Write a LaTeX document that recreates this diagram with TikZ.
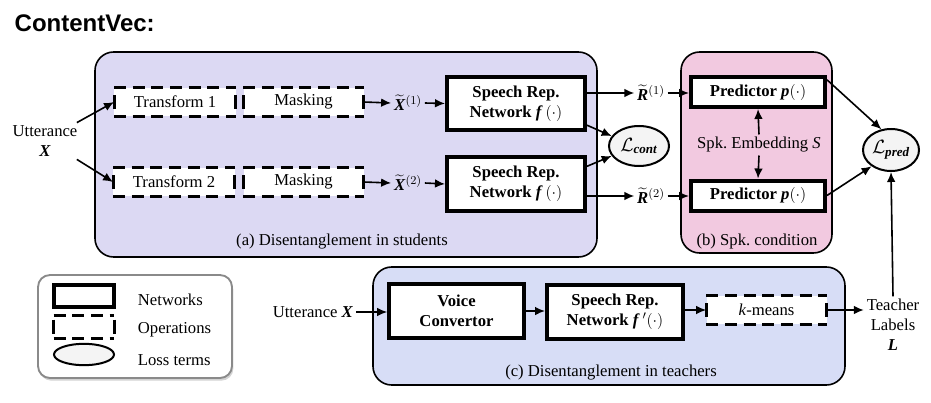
\documentclass[tikz,border=0pt]{standalone}
\usepackage{fontspec}
\usepackage{amsmath}
\setmainfont{Liberation Serif}
\newfontfamily\titlefont{Liberation Sans}
\usetikzlibrary{positioning,arrows.meta,shapes.geometric,shadows}
\definecolor{studentbg}{HTML}{DCD9F3}
\definecolor{condbg}{HTML}{F2C9E0}
\definecolor{teacherbg}{HTML}{D7DDF6}
\definecolor{lossfill}{HTML}{F4F4F4}
\definecolor{legendline}{HTML}{8A8A8A}
\newcommand{\figsize}{\fontsize{12.5}{15}\selectfont}
\tikzstyle{panel} = [draw, line width=1.2pt, rounded corners=14pt]
\tikzstyle{legendbox} = [draw=legendline, line width=1.4pt, rounded corners=9pt, fill=white,
  drop shadow={opacity=0.35, shadow xshift=1pt, shadow yshift=-2pt}]
\tikzstyle{net} = [rectangle, draw, line width=3pt, fill=white, font=\figsize\bfseries, align=center, inner sep=0pt]
\tikzstyle{op} = [rectangle, fill=white, inner sep=0pt, minimum height=21pt]
\tikzstyle{opedge} = [line width=2.3pt, dash pattern=on 9pt off 5pt]
\tikzstyle{opbar} = [line width=2.3pt]
\tikzstyle{loss} = [ellipse, draw, line width=1.5pt, fill=lossfill, inner sep=0pt, font=\fontsize{14}{16}\selectfont]
\tikzstyle{lbl} = [inner sep=2pt, align=center]
\tikzstyle{line} = [draw, line width=1.2pt, -{Latex[length=7.5pt,width=6.5pt]}]

\begin{document}
\begin{tikzpicture}[x=0.75pt, y=-0.75pt, font=\figsize]
  \useasboundingbox (0,0) rectangle (931,403);
  \node [anchor=west, font=\titlefont\bfseries\fontsize{18}{20}\selectfont] (title) at (10,23) {ContentVec:};

  % Panels
  \draw [panel, fill=studentbg] (95,52) rectangle (597,257);
  \draw [panel, fill=condbg] (681,52) rectangle (832,253);
  \draw [panel, fill=teacherbg] (373,267) rectangle (845,385);
  \draw [legendbox] (38,275) rectangle (232,378);

  % (a) students
  \node [lbl] (utt) at (45,141) {Utterance\\\textbf{\textit{X}}};
  \node [op, minimum width=91pt] (tf1) at (175,102) {Transform 1};
  \node [op, minimum width=90pt] (mk1) at (303.5,102) {Masking};
  \node [op, minimum width=91pt] (tf2) at (174,182) {Transform 2};
  \node [op, minimum width=90pt] (mk2) at (303.5,182) {Masking};
  \node [lbl] (x1) at (408,103) {$\widetilde{\textbf{\textit{X}}}{}^{(1)}$};
  \node [lbl] (x2) at (408,183) {$\widetilde{\textbf{\textit{X}}}{}^{(2)}$};
  \node [net, minimum width=103.5pt, minimum height=40pt] (sr1) at (516,103.5) {Speech Rep.\\Network \textit{f}\,$(\cdot)$};
  \node [net, minimum width=103.5pt, minimum height=40pt] (sr2) at (516,184) {Speech Rep.\\Network \textit{f}\,$(\cdot)$};
  \node [lbl] (pa) at (342,242) {(a) Disentanglement in students};

  \node [lbl] (r1) at (651,93) {$\widetilde{\textbf{\textit{R}}}{}^{(1)}$};
  \node [lbl] (r2) at (651,196) {$\widetilde{\textbf{\textit{R}}}{}^{(2)}$};
  \node [loss, minimum width=45pt, minimum height=30pt] (cont) at (639,146) {$\mathcal{L}_{\textbf{\textit{cont}}}$};

  % (b) speaker condition
  \node [net, minimum width=100.5pt, minimum height=22.5pt] (pred1) at (758,92) {Predictor \textit{p}$(\cdot)$};
  \node [net, minimum width=100.5pt, minimum height=22.5pt] (pred2) at (758,195.5) {Predictor \textit{p}$(\cdot)$};
  \node [lbl] (emb) at (759,145) {Spk.\ Embedding \textit{S}};
  \node [lbl] (pb) at (757,241) {(b) Spk.\ condition};
  \node [loss, minimum width=42pt, minimum height=31.5pt] (lpred) at (891,150) {$\mathcal{L}_{\textbf{\textit{pred}}}$};

  % (c) teachers
  \node [lbl] (utt2) at (313,312) {Utterance \textbf{\textit{X}}};
  \node [net, minimum width=101pt, minimum height=40.5pt] (vc) at (456.5,311) {Voice\\Convertor};
  \node [net, minimum width=102pt, minimum height=40.5pt] (sr3) at (615,312) {Speech Rep.\\Network \textit{f}\,$'(\cdot)$};
  \node [op, minimum width=90pt] (km) at (766.5,310) {\textit{k}-means};
  \node [lbl] (tl) at (893,325) {Teacher\\Labels\\\textbf{\textit{L}}};
  \node [lbl] (pc) at (611,373) {(c) Disentanglement in teachers};

  % Legend
  \node [net, minimum width=45pt, minimum height=16.5pt] (legnet) at (84,296) {};
  \node [op, minimum width=45pt, minimum height=16.5pt] (legop) at (84,327) {};
  \node [loss, minimum width=45pt, minimum height=16pt] (legloss) at (84,354.5) {};
  \node [lbl, anchor=west] (legnett) at (135,300) {Networks};
  \node [lbl, anchor=west] (legopt) at (135,330) {Operations};
  \node [lbl, anchor=west] (legloosst) at (135,360) {Loss terms};

  % dashed outlines of the operations
  \foreach \o in {tf1,mk1,tf2,mk2,km}{
    \draw [opedge] (\o.north west) -- (\o.north east) (\o.south west) -- (\o.south east);
    \draw [opbar] ([yshift=5pt]\o.west) -- ([yshift=-5pt]\o.west)
                  ([yshift=5pt]\o.east) -- ([yshift=-5pt]\o.east);
  }
  \draw [opedge] (legop.north west) -- (legop.north east) (legop.south west) -- (legop.south east);
  \draw [opbar] ([yshift=5.5pt]legop.west) -- ([yshift=-5.5pt]legop.west)
                ([yshift=5.5pt]legop.east) -- ([yshift=-5.5pt]legop.east);

  % edges
  \path [line] (utt.30) -- (tf1.west);
  \path [line] (utt.-30) -- (tf2.west);
  \path [line] (mk1.east) -- (x1.west);
  \path [line] (mk2.east) -- (x2.west);
  \path [line] (x1.east) -- (sr1.west);
  \path [line] (x2.east) -- (sr2.west);
  \path [line] (sr1.east |- r1.west) -- (r1.west);
  \path [line] (sr2.east |- r2.west) -- (r2.west);
  \path [line] (sr1.-17) -- (cont.160);
  \path [line] (sr2.14) -- (cont.200);
  \path [line] (r1.east) -- (pred1.west |- r1.east);
  \path [line] (r2.east) -- (pred2.west |- r2.east);
  \path [line] (emb.north) -- (pred1.south);
  \path [line] (emb.south) -- (pred2.north);
  \path [line] (pred1.10) -- (lpred.115);
  \path [line] (pred2.east) -- (lpred.220);
  \path [line] (utt2.east) -- (vc.west |- utt2.east);
  \path [line] (vc.east) -- (sr3.west |- vc.east);
  \path [line] (sr3.east |- km.west) -- (km.west);
  \path [line] (km.east) -- (tl.west |- km.east);
  \path [line] (tl.north) -- (lpred.south);
\end{tikzpicture}
\end{document}
